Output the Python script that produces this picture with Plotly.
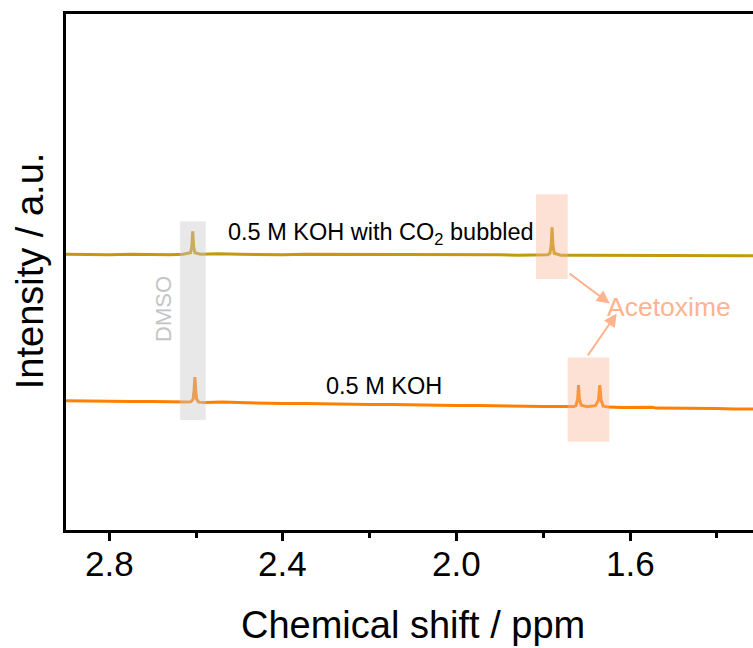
import plotly.graph_objects as go

# ---- data (ppm, intensity in arbitrary units) ----
koh_ppm = [2.90, 2.85, 2.80, 2.75, 2.70, 2.66, 2.64, 2.62, 2.612, 2.607, 2.605, 2.603, 2.601, 2.599, 2.594,
           2.58, 2.54, 2.50, 2.45, 2.40, 2.35, 2.30, 2.25, 2.20, 2.15, 2.10, 2.05, 2.00, 1.95, 1.90, 1.85,
           1.80, 1.76, 1.73, 1.725, 1.721, 1.719, 1.717, 1.713, 1.70, 1.68, 1.673, 1.670, 1.667, 1.662,
           1.65, 1.62, 1.60, 1.56, 1.55, 1.54, 1.50, 1.45, 1.40, 1.36, 1.317]
koh_int = [129.5, 129.0, 129.0, 128.5, 128.5, 128.0, 128.5, 128.0, 128.5, 131.0, 140.0, 153.0, 140.0, 131.0, 128.0,
           127.5, 128.0, 127.5, 127.0, 126.5, 126.5, 126.0, 126.0, 125.5, 125.5, 125.0, 125.0, 124.5, 124.5, 124.0, 124.0,
           123.5, 123.5, 123.5, 124.5, 131.0, 145.0, 131.0, 125.0, 123.5, 124.5, 130.0, 145.0, 130.0, 124.0,
           123.0, 122.5, 122.5, 122.5, 122.8, 122.0, 122.0, 121.5, 121.5, 121.0, 121.0]

co2_ppm = [2.90, 2.85, 2.80, 2.75, 2.70, 2.66, 2.63, 2.62, 2.613, 2.610, 2.608, 2.606, 2.603, 2.59,
           2.55, 2.50, 2.45, 2.40, 2.35, 2.30, 2.25, 2.20, 2.15, 2.10, 2.05, 2.00, 1.95, 1.90, 1.86,
           1.82, 1.79, 1.785, 1.782, 1.780, 1.778, 1.775, 1.76, 1.72, 1.70, 1.65, 1.60, 1.55, 1.50,
           1.45, 1.40, 1.36, 1.317]
co2_int = [276.0, 275.5, 275.5, 276.0, 275.5, 275.5, 276.0, 276.5, 277.5, 284.0, 299.0, 284.0, 277.5, 276.0,
           276.5, 276.0, 275.5, 275.5, 276.0, 276.0, 275.5, 276.0, 275.5, 275.5, 276.0, 275.5, 275.5, 275.5, 275.0,
           275.0, 275.5, 277.0, 285.0, 303.0, 285.0, 277.0, 275.0, 275.0, 275.0, 275.0, 275.0, 274.5, 274.5,
           274.5, 274.5, 274.5, 274.5]

x_tickvals = [2.8, 2.4, 2.0, 1.6]
x_ticktext = ["2.8", "2.4", "2.0", "1.6"]
x_minor = [2.6, 2.2, 1.8, 1.4]

X_RANGE = [2.90, 1.317]
Y_RANGE = [0, 516.5]

GOLD = "#C39A0E"
ORANGE = "#FF8000"
SALMON = "#FFB38F"
FONT = "Liberation Sans, Arial, sans-serif"

fig = go.Figure()
fig.add_trace(go.Scatter(x=co2_ppm, y=co2_int, mode="lines",
                         line=dict(color=GOLD, width=3), showlegend=False))
fig.add_trace(go.Scatter(x=koh_ppm, y=koh_int, mode="lines",
                         line=dict(color=ORANGE, width=3), showlegend=False))

# highlight boxes (drawn above the traces, semi-transparent)
fig.add_shape(type="rect", x0=2.637, x1=2.578, y0=110, y1=309, xref="x", yref="y",
              fillcolor="rgb(200,200,200)", opacity=0.42, line=dict(width=0), layer="above")
fig.add_shape(type="rect", x0=1.817, x1=1.744, y0=251.3, y1=336, xref="x", yref="y",
              fillcolor="rgb(250,180,150)", opacity=0.4, line=dict(width=0), layer="above")
fig.add_shape(type="rect", x0=1.744, x1=1.648, y0=88.3, y1=172.7, xref="x", yref="y",
              fillcolor="rgb(250,180,150)", opacity=0.4, line=dict(width=0), layer="above")

# arrows
for (x0, y0, x1, y1) in [(1.743, 257.7, 1.647, 226.7), (1.700, 173.3, 1.631, 216.7)]:
    fig.add_annotation(x=x1, y=y1, ax=x0, ay=y0, xref="x", yref="y", axref="x", ayref="y",
                       text="", showarrow=True, arrowhead=2, arrowsize=1.3, arrowwidth=2,
                       arrowcolor=SALMON)

# text labels
fig.add_annotation(x=2.532, y=297, xref="x", yref="y", xanchor="left", yanchor="middle",
                   text="0.5 M KOH with CO<sub>2</sub> bubbled", showarrow=False,
                   font=dict(family=FONT, size=23.5, color="black"))
fig.add_annotation(x=2.3065, y=144, xref="x", yref="y", xanchor="left", yanchor="middle",
                   text="0.5 M KOH", showarrow=False,
                   font=dict(family=FONT, size=23.5, color="black"))
fig.add_annotation(x=2.676, y=221.5, xref="x", yref="y", xanchor="center", yanchor="middle",
                   text="DMSO", textangle=-90, showarrow=False,
                   font=dict(family=FONT, size=22, color="#C4C4C4"))
fig.add_annotation(x=1.510, y=223, xref="x", yref="y", xanchor="center", yanchor="middle",
                   text="Acetoxime", showarrow=False,
                   font=dict(family=FONT, size=26.5, color=SALMON))

# x tick labels (placed at the tick values on the x scale)
for v, t in zip(x_tickvals, x_ticktext):
    fig.add_annotation(x=v, y=(530 - 564) / 516.5, xref="x", yref="paper",
                       xanchor="center", yanchor="middle", text=t, showarrow=False,
                       font=dict(family=FONT, size=35, color="black"))

# axis titles
fig.add_annotation(x=(413 - 66) / 687, y=(530 - 625.5) / 516.5, xref="paper", yref="paper",
                   xanchor="center", yanchor="middle", text="Chemical shift / ppm", showarrow=False,
                   font=dict(family=FONT, size=38, color="black"))
fig.add_annotation(x=(30 - 66) / 687, y=(530 - 271) / 516.5, xref="paper", yref="paper",
                   xanchor="center", yanchor="middle", text="Intensity / a.u.", textangle=-90,
                   showarrow=False, font=dict(family=FONT, size=38, color="black"))

fig.update_layout(
    width=753, height=648,
    margin=dict(l=66, r=0, t=13.5, b=118, pad=0),
    plot_bgcolor="white", paper_bgcolor="white",
    font=dict(family=FONT, color="black"),
    xaxis=dict(range=X_RANGE, showgrid=False, zeroline=False,
               showline=True, linecolor="black", linewidth=3, mirror=True,
               ticks="outside", ticklen=8, tickwidth=3, tickcolor="black",
               tickvals=x_tickvals, showticklabels=False,
               minor=dict(tickvals=x_minor, ticks="outside", ticklen=5, tickwidth=3, tickcolor="black")),
    yaxis=dict(range=Y_RANGE, showgrid=False, zeroline=False,
               showline=True, linecolor="black", linewidth=3, mirror=False,
               showticklabels=False, ticks=""),
)

fig.write_html("out.html")
